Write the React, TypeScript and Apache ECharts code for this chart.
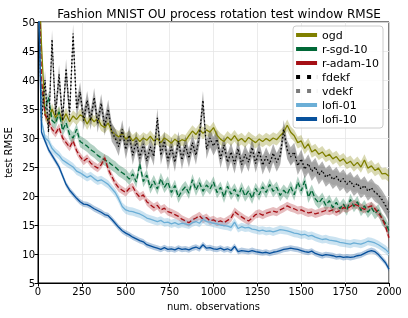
import React, { useEffect, useRef } from "react";
import * as echarts from "echarts";

const OBS: number[] = Array.from({ length: 101 }, (_, i) => i * 20);
const X_TICKS = [0, 250, 500, 750, 1000, 1250, 1500, 1750, 2000];
const Y_TICKS = [5, 10, 15, 20, 25, 30, 35, 40, 45, 50];

const OGD = [
  62, 46, 34, 33, 35, 33.5, 34.5, 33.0, 34.2, 32.8,
  33.8, 33.2, 34.0, 33.6, 32.4, 33.5, 32.8, 33.4, 32.2, 31.8,
  32.6, 31.2, 30.6, 30.2, 30.8, 29.8, 30.3, 29.5, 30.1, 29.4,
  30.0, 29.6, 30.3, 29.5, 29.9, 29.2, 30.0, 29.6, 29.1, 29.8,
  29.3, 29.7, 29.5, 30.4, 31.2, 30.6, 31.5, 30.8, 31.4, 31.0,
  31.8, 30.5, 29.8, 29.4, 30.2, 29.6, 30.4, 29.5, 29.9, 29.3,
  30.1, 29.6, 29.2, 29.8, 29.4, 29.9, 29.5, 30.0, 29.7, 30.4,
  31.0, 32.2, 31.0, 30.4, 29.2, 29.5, 28.2, 29.0, 27.6, 28.0,
  27.2, 27.6, 26.8, 27.2, 26.4, 26.8, 26.0, 26.4, 25.6, 26.0,
  25.2, 25.8, 25.0, 26.2, 24.8, 25.2, 24.4, 24.8, 23.8, 23.9,
  23.4,
];
const R_SGD = [
  60, 38, 35, 37, 33, 32.5, 34.5, 31.3, 32.6, 30.6,
  30.0, 31.5, 29.4, 29.0, 28.6, 28.0, 27.6, 27.0, 26.6, 26.2,
  25.9, 25.4, 25.0, 24.4, 24.0, 23.6, 22.9, 23.8, 22.4, 25.5,
  22.5, 23.6, 21.4, 22.6, 21.2, 23.0, 21.5, 22.4, 20.6, 21.8,
  19.8, 20.9, 21.6, 20.5, 22.8, 21.0, 22.3, 20.8, 21.9, 21.2,
  22.4, 20.6, 21.5, 19.8, 21.7, 20.3, 21.2, 19.9, 21.4, 20.0,
  20.9, 19.6, 21.3, 20.2, 21.6, 20.6, 22.0, 20.8, 21.5, 20.1,
  21.0, 20.3, 21.6, 20.2, 22.4, 20.9, 22.6, 19.8, 21.0, 19.5,
  18.8, 19.6, 18.4, 19.2, 18.0, 18.9, 17.8, 18.6, 17.6, 19.4,
  18.2, 19.0, 17.5, 18.3, 17.2, 18.0, 17.0, 17.6, 16.0, 15.3,
  14.0,
];
const R_ADAM = [
  60, 40, 34, 33, 31.5, 30.8, 31.8, 30.0, 29.2, 28.4,
  29.5, 27.8, 26.8, 26.0, 26.5, 25.7, 25.2, 24.8, 25.4, 26.6,
  24.6, 23.4, 22.2, 21.4, 21.0, 20.6, 21.3, 21.6, 20.5, 19.8,
  20.2, 19.0, 18.5, 18.0, 18.4, 17.6, 17.9, 17.3, 17.1, 16.8,
  16.5, 16.0, 15.7, 15.4, 15.9, 16.2, 16.6, 16.0, 16.3, 15.7,
  15.9, 15.5, 15.7, 15.4, 15.8, 16.2, 17.3, 16.8, 16.4, 16.0,
  15.7, 16.2, 16.8, 17.0, 16.7, 17.0, 17.2, 17.4, 17.2, 17.6,
  17.9, 18.3, 18.0, 17.8, 17.5, 17.6, 17.3, 17.1, 17.2, 16.9,
  17.1, 17.3, 17.5, 17.4, 17.6, 17.2, 17.5, 18.0, 17.8, 18.2,
  18.6, 18.4, 18.0, 17.7, 18.1, 18.3, 17.8, 17.0, 16.2, 14.8,
  12.8,
];
const FDEKF = [
  60, 33, 40, 31, 47, 34, 41, 33, 42, 34,
  48, 35, 38, 33, 36.5, 33, 37, 32.5, 36, 32,
  35, 31, 30, 28.5, 31.5, 28, 30.5, 27, 29.5, 26.5,
  29, 26, 28.5, 26.8, 33.5, 27, 29.5, 26, 28.5, 25.8,
  29.5, 26.2, 28.8, 26.5, 29.2, 27, 30.5, 36.5, 28, 30,
  28.6, 29.8, 26.4, 28.8, 25.8, 27.6, 25.5, 28.2, 25.4, 27.2,
  25.8, 28.4, 25.6, 27.8, 25.3, 26.8, 25.5, 27.4, 25.8, 27.0,
  31.5, 28.0, 26.8, 27.6, 25.2, 26.4, 24.6, 25.6, 24.2, 25.0,
  23.6, 24.4, 23.2, 23.8, 22.8, 23.4, 22.4, 23.0, 22.0, 22.6,
  21.6, 22.2, 21.2, 21.8, 20.8, 21.4, 20.6, 20.2, 19.4, 18.4,
  17.2,
];
const VDEKF = [
  60, 34, 39, 32, 46, 35, 40, 33.5, 41, 34.5,
  47, 35.5, 37.5, 33.5, 36, 33.5, 36.5, 33, 35.5, 32.5,
  34.5, 31.5, 30.4, 29, 31, 28.5, 30, 27.5, 29, 27,
  28.6, 26.5, 28, 27.2, 32.5, 27.5, 29, 26.5, 28, 26.3,
  29, 26.7, 28.4, 27, 28.8, 27.4, 30, 35.5, 28.4, 29.6,
  28.9, 29.4, 26.8, 28.4, 26.2, 27.3, 25.9, 27.8, 25.8, 26.9,
  26.2, 28, 26, 27.5, 25.7, 26.5, 25.9, 27.1, 26.2, 26.8,
  30.8, 27.8, 26.6, 27.3, 25.5, 26.1, 24.9, 25.4, 24.5, 24.8,
  23.9, 24.2, 23.5, 23.6, 23.1, 23.2, 22.7, 22.8, 22.3, 22.4,
  21.9, 22.0, 21.5, 21.6, 21.1, 21.2, 20.8, 20.0, 19.2, 18.2,
  17.0,
];
const LOFI_01 = [
  58, 33, 30, 29.5, 28.2, 27.5, 27.0, 26.2, 25.8, 25.4,
  25.0, 24.3, 24.0, 23.6, 23.2, 23.5, 23.0, 22.6, 22.8, 22.4,
  22.0, 21.3, 20.6, 19.5, 18.2, 17.6, 17.4, 17.3, 17.1, 16.9,
  16.6, 16.2, 16.0, 15.8, 15.6, 15.8, 15.4, 15.5, 15.2, 15.4,
  15.1, 15.3, 15.2, 15.0, 15.4, 15.6, 15.3, 16.0, 15.6, 15.5,
  15.3, 15.2, 15.0, 14.9, 14.8, 14.6, 15.5, 14.4, 14.7, 14.5,
  14.6, 14.3, 14.2, 14.0, 14.1, 13.9, 14.0, 13.8, 14.0, 14.2,
  14.1, 14.0, 13.8, 13.6, 13.5, 13.3, 13.4, 13.1, 13.2, 12.9,
  12.7, 12.5, 12.6, 12.4, 12.3, 12.2, 12.0, 11.9, 11.8, 11.7,
  11.9, 11.8, 11.7, 11.9, 12.2, 12.1, 11.9, 11.6, 11.2, 10.8,
  10.2,
];
const LOFI_10 = [
  58, 31, 29.5, 28, 27, 26, 25, 23.5, 22, 21,
  20.3, 19.6, 19.0, 18.6, 18.5, 18.2, 17.8, 17.5, 17.2, 16.8,
  16.6, 16.0, 15.3, 14.6, 14.0, 13.6, 13.3, 12.9, 12.6, 12.3,
  12.1, 11.6, 11.4, 11.2, 11.0, 10.8, 11.1, 10.8, 10.9, 10.7,
  11.0, 10.8, 10.9, 10.7, 11.0, 11.2, 10.9, 11.6, 11.0, 11.1,
  10.9, 10.8, 11.0, 10.7, 10.9, 10.6, 11.3, 10.4, 10.6, 10.5,
  10.4, 10.6, 10.4, 10.3, 10.2, 10.3, 10.1, 10.3, 10.4, 10.6,
  10.8, 10.9, 11.0, 10.9, 10.8, 10.6, 10.4, 10.3, 10.5, 10.1,
  9.9, 9.7, 9.9, 9.8, 9.7, 9.5, 9.6, 9.4, 9.5, 9.4,
  9.5, 9.7, 9.8, 10.1, 10.4, 10.6, 10.4, 9.9, 9.2, 8.5,
  7.4,
];

const FONT = "DejaVu Sans";
const LINE_ICON = "path://M0,0h21v4h-21z";
const DOT_ICON = "path://M0,0h4v4h-4z M11,0h4v4h-4z M20.9,0h0.1v4h-0.1z";

type Spec = {
  name: string;
  vals: number[];
  color: string;
  band: string;
  hw: number;
  dash: any;
  icon: string;
  z: number;
};

const SPECS: Spec[] = [
  { name: "ogd", vals: OGD, color: "#808000", band: "rgba(128,128,0,0.3)", hw: 1.0, dash: "solid", icon: LINE_ICON, z: 3 },
  { name: "r-sgd-10", vals: R_SGD, color: "#006837", band: "rgba(0,104,55,0.3)", hw: 1.0, dash: [5, 2.5], icon: LINE_ICON, z: 3 },
  { name: "r-adam-10", vals: R_ADAM, color: "#a50f15", band: "rgba(165,15,21,0.28)", hw: 0.7, dash: [5, 2.5], icon: LINE_ICON, z: 3 },
  { name: "fdekf", vals: FDEKF, color: "#000000", band: "rgba(0,0,0,0.3)", hw: 1.6, dash: [1.5, 2.2], icon: DOT_ICON, z: 5 },
  { name: "vdekf", vals: VDEKF, color: "#7a7a7a", band: "rgba(128,128,128,0.3)", hw: 1.2, dash: [1.5, 2.2], icon: DOT_ICON, z: 4 },
  { name: "lofi-01", vals: LOFI_01, color: "#6baed6", band: "rgba(107,174,214,0.35)", hw: 0.7, dash: "solid", icon: LINE_ICON, z: 6 },
  { name: "lofi-10", vals: LOFI_10, color: "#08519c", band: "rgba(8,81,156,0.3)", hw: 0.5, dash: "solid", icon: LINE_ICON, z: 6 },
];

export default function App() {
  const ref = useRef<HTMLDivElement>(null);
  useEffect(() => {
    if (!ref.current) return;
    const chart = echarts.init(ref.current, undefined, { renderer: "svg" });
    const series: any[] = [];
    SPECS.forEach((s) => {
      series.push({
        type: "custom",
        name: s.name + " band",
        coordinateSystem: "cartesian2d",
        data: [[1000, 20]],
        clip: true,
        silent: true,
        z: 2,
        renderItem: (_params: any, api: any) => {
          const upper = OBS.map((x, i) => api.coord([x, s.vals[i] + s.hw]));
          const lower = OBS.map((x, i) => api.coord([x, s.vals[i] - s.hw])).reverse();
          return {
            type: "polygon",
            shape: { points: upper.concat(lower) },
            style: { fill: s.band, stroke: "none" },
          };
        },
      });
    });
    SPECS.forEach((s) => {
      series.push({
        type: "line",
        name: s.name,
        data: OBS.map((x, i) => [x, s.vals[i]]),
        symbol: "none",
        color: s.color,
        itemStyle: { color: s.color },
        lineStyle: { color: s.color, width: 1.3, type: s.dash },
        z: s.z,
      });
    });
    const labelFmt = (v: number) => String(v);
    chart.setOption({
      animation: false,
      title: {
        text: "Fashion MNIST OU process rotation test window RMSE",
        left: 214,
        textAlign: "center",
        top: 3,
        textStyle: { fontFamily: FONT, fontSize: 12, fontWeight: "normal", color: "#000" },
      },
      grid: {
        left: 38,
        right: 19,
        top: 22,
        bottom: 35,
        outerBoundsMode: "none",
        containLabel: false,
        show: true,
        borderColor: "#000",
        borderWidth: 1,
        backgroundColor: "transparent",
      },
      legend: {
        orient: "vertical",
        right: 25,
        top: 26,
        padding: [3, 4, 3, 3],
        itemWidth: 21,
        itemHeight: 4,
        itemGap: 2,
        backgroundColor: "rgba(255,255,255,0.85)",
        borderColor: "#cccccc",
        borderWidth: 1,
        borderRadius: 3,
        itemStyle: { borderWidth: 0 },
        textStyle: { fontFamily: FONT, fontSize: 11, color: "#000", lineHeight: 12 },
        data: SPECS.map((s) => ({ name: s.name, icon: s.icon })),
      },
      xAxis: {
        type: "value",
        min: X_TICKS[0],
        max: X_TICKS[X_TICKS.length - 1],
        interval: 250,
        name: "num. observations",
        nameLocation: "middle",
        nameGap: 18,
        nameMoveOverlap: false,
        nameTextStyle: { fontFamily: FONT, fontSize: 10, color: "#000" },
        axisLine: { show: true, lineStyle: { color: "#000", width: 1 } },
        axisTick: { show: true, length: 3.5, lineStyle: { color: "#000" } },
        axisLabel: { fontFamily: FONT, fontSize: 10, color: "#000", margin: 3, formatter: labelFmt },
        splitLine: { show: true, lineStyle: { color: "#e6e6e6", width: 0.8 } },
      },
      yAxis: {
        type: "value",
        min: Y_TICKS[0],
        max: Y_TICKS[Y_TICKS.length - 1],
        interval: 5,
        name: "test RMSE",
        nameLocation: "middle",
        nameGap: 25,
        nameMoveOverlap: false,
        nameTextStyle: { fontFamily: FONT, fontSize: 10, color: "#000" },
        axisLine: { show: true, lineStyle: { color: "#000", width: 1 } },
        axisTick: { show: true, length: 3.5, lineStyle: { color: "#000" } },
        axisLabel: { fontFamily: FONT, fontSize: 10, color: "#000", margin: 3, formatter: labelFmt },
        splitLine: { show: true, lineStyle: { color: "#e6e6e6", width: 0.8 } },
      },
      series,
    });
    return () => chart.dispose();
  }, []);
  return (
    <div
      ref={ref}
      style={{ position: "fixed", left: 0, top: 0, width: 408, height: 318 }}
    />
  );
}
